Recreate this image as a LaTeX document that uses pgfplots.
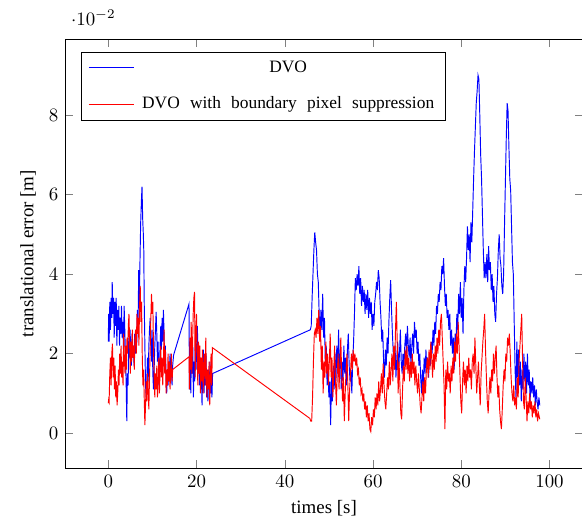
\documentclass[border=0pt]{standalone}
\usepackage{fontspec}
\setmainfont{Liberation Serif}
\usepackage{pgfplots}
\pgfplotsset{compat=1.18}
\newcommand{\lsp}{\hspace{5.4pt}}

\begin{document}
\begin{tikzpicture}
\begin{axis}[
  scale only axis,
  width=274pt, height=227pt,
  xmin=-9.8, xmax=107.6,
  ymin=-0.0088, ymax=0.0991,
  xtick={0,20,40,60,80,100},
  ytick={0,0.02,0.04,0.06,0.08},
  xlabel={times [s]},
  ylabel={translational error [m]},
  legend pos=north west,
  legend cell align=center,
  legend style={font=\fontsize{9.2}{11}\selectfont, row sep=7.5pt,
    inner xsep=4pt, inner ysep=2.5pt, /tikz/column 1/.style={column sep=2pt}},
  legend image code/.code={\draw[#1] (0cm,0cm) -- (0.84cm,0cm);},
  every axis plot/.append style={line width=0.5pt},
]
% DVO
\addplot[blue, no markers] coordinates {
(0.00,0.023)(0.10,0.030)(0.20,0.023)(0.35,0.033)(0.50,0.026)(0.65,0.034)(0.80,0.029)(0.90,0.038)(1.05,0.030)(1.20,0.034)(1.35,0.024)(1.50,0.033)(1.65,0.027)(1.80,0.034)(1.95,0.022)(2.10,0.031)(2.25,0.026)(2.40,0.032)(2.55,0.022)(2.70,0.029)(2.85,0.025)(3.00,0.032)(3.15,0.024)(3.30,0.028)(3.45,0.021)(3.60,0.032)(3.75,0.026)(3.90,0.019)(4.05,0.013)(4.20,0.003)(4.35,0.015)(4.50,0.012)(4.65,0.024)(4.80,0.019)(4.95,0.026)(5.10,0.020)(5.25,0.017)(5.40,0.025)(5.55,0.019)(5.70,0.022)(5.85,0.017)(6.00,0.025)(6.15,0.020)(6.30,0.026)(6.45,0.022)(6.60,0.031)(6.75,0.026)(6.90,0.041)(7.05,0.033)(7.20,0.044)(7.35,0.053)(7.50,0.058)(7.65,0.062)(7.80,0.054)(7.95,0.050)(8.05,0.046)(8.15,0.033)(8.30,0.022)(8.45,0.012)(8.60,0.009)(8.75,0.014)(8.90,0.019)(9.05,0.013)(9.20,0.022)(9.35,0.026)(9.50,0.029)(9.65,0.023)(9.80,0.018)(9.95,0.026)(10.10,0.015)(10.25,0.011)(10.40,0.016)(10.55,0.022)(10.70,0.026)(10.85,0.0305)(11.00,0.025)(11.15,0.018)(11.30,0.023)(11.45,0.012)(11.60,0.016)(11.75,0.022)(11.90,0.027)(12.05,0.021)(12.20,0.029)(12.35,0.023)(12.50,0.031)(12.65,0.025)(12.80,0.017)(12.95,0.022)(13.10,0.014)(13.25,0.010)(13.40,0.015)(13.55,0.012)(13.70,0.018)(13.85,0.013)(14.00,0.020)(14.15,0.015)(14.30,0.019)(14.45,0.012)(14.60,0.017)(14.80,0.0196)
(18.30,0.0325)(18.40,0.011)(18.55,0.023)(18.70,0.010)(18.85,0.020)(19.00,0.015)(19.15,0.022)(19.30,0.009)(19.45,0.018)(19.60,0.013)(19.75,0.024)(19.90,0.016)(20.05,0.022)(20.20,0.027)(20.35,0.018)(20.50,0.022)(20.65,0.012)(20.80,0.019)(20.95,0.011)(21.10,0.016)(21.25,0.007)(21.40,0.015)(21.55,0.021)(21.70,0.010)(21.85,0.017)(22.00,0.012)(22.15,0.020)(22.30,0.009)(22.45,0.016)(22.60,0.008)(22.75,0.015)(22.90,0.011)(23.05,0.018)(23.20,0.010)(23.35,0.013)(23.50,0.009)(23.65,0.015)
(45.80,0.026)(46.00,0.027)(46.20,0.034)(46.40,0.040)(46.60,0.046)(46.80,0.0505)(47.00,0.048)(47.20,0.046)(47.40,0.040)(47.60,0.038)(47.80,0.030)(48.00,0.024)(48.20,0.031)(48.40,0.026)(48.60,0.035)(48.80,0.024)(49.00,0.029)(49.20,0.017)(49.40,0.022)(49.60,0.012)(49.80,0.016)(50.00,0.009)(50.20,0.013)(50.40,0.002)(50.60,0.014)(50.80,0.008)(51.00,0.017)(51.20,0.011)(51.40,0.020)(51.60,0.013)(51.80,0.022)(52.00,0.015)(52.20,0.026)(52.40,0.016)(52.60,0.020)(52.80,0.011)(53.00,0.018)(53.20,0.013)(53.40,0.022)(53.60,0.015)(53.80,0.019)(54.00,0.012)(54.20,0.021)(54.40,0.025)(54.60,0.017)(54.80,0.013)(55.00,0.016)(55.20,0.010)(55.40,0.018)(55.60,0.023)(55.80,0.030)(56.00,0.039)(56.20,0.036)(56.40,0.040)(56.60,0.037)(56.80,0.042)(57.00,0.035)(57.20,0.039)(57.40,0.032)(57.60,0.037)(57.80,0.033)(58.00,0.036)(58.20,0.030)(58.40,0.035)(58.60,0.031)(58.80,0.036)(59.00,0.029)(59.20,0.034)(59.40,0.030)(59.60,0.033)(59.80,0.026)(60.00,0.030)(60.20,0.027)(60.40,0.033)(60.60,0.035)(60.80,0.038)(61.00,0.036)(61.20,0.041)(61.40,0.039)(61.60,0.033)(61.80,0.029)(62.00,0.023)(62.20,0.026)(62.40,0.018)(62.60,0.014)(62.80,0.021)(63.00,0.017)(63.20,0.024)(63.40,0.020)(63.60,0.028)(63.80,0.034)(64.00,0.0385)(64.20,0.031)(64.40,0.025)(64.60,0.020)(64.80,0.016)(65.00,0.022)(65.20,0.014)(65.40,0.019)(65.60,0.023)(65.80,0.016)(66.00,0.020)(66.20,0.026)(66.40,0.018)(66.60,0.015)(66.80,0.020)(67.00,0.016)(67.20,0.022)(67.40,0.025)(67.60,0.020)(67.80,0.027)(68.00,0.022)(68.20,0.019)(68.40,0.024)(68.60,0.017)(68.80,0.022)(69.00,0.025)(69.20,0.020)(69.40,0.028)(69.60,0.024)(69.80,0.026)(70.00,0.020)(70.20,0.023)(70.40,0.017)(70.60,0.020)(70.80,0.014)(71.00,0.010)(71.20,0.016)(71.40,0.012)(71.60,0.019)(71.80,0.015)(72.00,0.021)(72.20,0.016)(72.40,0.019)(72.60,0.014)(72.80,0.020)(73.00,0.017)(73.20,0.023)(73.40,0.020)(73.60,0.026)(73.80,0.022)(74.00,0.028)(74.20,0.025)(74.40,0.032)(74.60,0.030)(74.80,0.035)(75.00,0.033)(75.20,0.038)(75.40,0.036)(75.60,0.042)(75.80,0.040)(76.00,0.044)(76.20,0.037)(76.40,0.032)(76.60,0.035)(76.80,0.029)(77.00,0.031)(77.20,0.026)(77.40,0.030)(77.60,0.022)(77.80,0.026)(78.00,0.020)(78.20,0.024)(78.40,0.016)(78.60,0.025)(78.80,0.022)(79.00,0.030)(79.20,0.026)(79.40,0.035)(79.60,0.030)(79.80,0.038)(80.00,0.029)(80.20,0.034)(80.40,0.025)(80.60,0.036)(80.80,0.042)(81.00,0.038)(81.20,0.044)(81.40,0.052)(81.60,0.046)(81.80,0.050)(82.00,0.043)(82.20,0.053)(82.40,0.048)(82.60,0.056)(82.80,0.064)(83.00,0.071)(83.20,0.077)(83.40,0.083)(83.60,0.086)(83.80,0.090)(84.00,0.089)(84.20,0.080)(84.40,0.070)(84.60,0.064)(84.80,0.055)(85.00,0.046)(85.20,0.039)(85.40,0.043)(85.60,0.039)(85.80,0.045)(86.00,0.038)(86.20,0.047)(86.40,0.041)(86.60,0.043)(86.80,0.036)(87.00,0.040)(87.20,0.033)(87.40,0.037)(87.60,0.030)(87.80,0.028)(88.00,0.035)(88.20,0.039)(88.40,0.046)(88.60,0.050)(88.80,0.044)(89.00,0.042)(89.20,0.037)(89.40,0.035)(89.60,0.040)(89.80,0.052)(90.00,0.063)(90.20,0.074)(90.40,0.083)(90.60,0.081)(90.80,0.072)(91.00,0.064)(91.20,0.061)(91.40,0.052)(91.60,0.043)(91.80,0.040)(92.00,0.028)(92.20,0.016)(92.40,0.009)(92.60,0.023)(92.80,0.014)(93.00,0.021)(93.20,0.012)(93.40,0.018)(93.60,0.008)(93.80,0.016)(94.00,0.011)(94.20,0.020)(94.40,0.013)(94.60,0.018)(94.80,0.010)(95.00,0.020)(95.20,0.012)(95.40,0.016)(95.60,0.008)(95.80,0.013)(96.00,0.010)(96.20,0.014)(96.40,0.009)(96.60,0.012)(96.80,0.007)(97.00,0.011)(97.20,0.008)(97.40,0.006)(97.60,0.009)(97.80,0.007)
};
\addlegendentry{DVO}
% DVO with boundary pixel suppression
\addplot[red, no markers] coordinates {
(0.00,0.0075)(0.10,0.0085)(0.20,0.008)(0.35,0.015)(0.50,0.019)(0.65,0.012)(0.80,0.020)(0.95,0.0225)(1.10,0.014)(1.25,0.019)(1.40,0.011)(1.55,0.017)(1.70,0.009)(1.85,0.013)(2.00,0.007)(2.15,0.010)(2.30,0.016)(2.45,0.012)(2.60,0.020)(2.75,0.015)(2.90,0.022)(3.05,0.014)(3.20,0.018)(3.35,0.012)(3.50,0.025)(3.65,0.019)(3.80,0.015)(3.95,0.022)(4.10,0.016)(4.25,0.024)(4.40,0.020)(4.55,0.027)(4.70,0.030)(4.85,0.022)(5.00,0.015)(5.15,0.023)(5.30,0.018)(5.45,0.026)(5.60,0.019)(5.75,0.022)(5.90,0.016)(6.05,0.024)(6.20,0.026)(6.35,0.020)(6.50,0.030)(6.65,0.025)(6.80,0.029)(6.95,0.022)(7.10,0.032)(7.25,0.037)(7.40,0.028)(7.55,0.033)(7.70,0.020)(7.85,0.012)(8.00,0.016)(8.15,0.009)(8.30,0.002)(8.45,0.007)(8.60,0.013)(8.75,0.008)(8.90,0.015)(9.05,0.010)(9.20,0.006)(9.35,0.014)(9.50,0.021)(9.65,0.029)(9.80,0.035)(9.95,0.030)(10.10,0.033)(10.25,0.022)(10.40,0.014)(10.55,0.009)(10.70,0.015)(10.85,0.011)(11.00,0.017)(11.15,0.009)(11.30,0.013)(11.45,0.019)(11.60,0.010)(11.75,0.016)(11.90,0.022)(12.05,0.014)(12.20,0.019)(12.35,0.012)(12.50,0.018)(12.65,0.026)(12.80,0.015)(12.95,0.021)(13.10,0.010)(13.25,0.016)(13.40,0.012)(13.55,0.020)(13.70,0.013)(13.85,0.018)(14.00,0.011)(14.15,0.015)(14.30,0.020)(14.45,0.013)(14.60,0.016)
(18.30,0.0192)(18.40,0.011)(18.50,0.024)(18.65,0.016)(18.80,0.028)(18.95,0.015)(19.10,0.022)(19.25,0.030)(19.40,0.034)(19.55,0.0355)(19.70,0.014)(19.85,0.026)(20.00,0.030)(20.15,0.020)(20.30,0.012)(20.45,0.023)(20.60,0.015)(20.75,0.022)(20.90,0.010)(21.05,0.019)(21.20,0.013)(21.35,0.021)(21.50,0.010)(21.65,0.017)(21.80,0.020)(21.95,0.012)(22.10,0.024)(22.25,0.014)(22.40,0.009)(22.55,0.016)(22.70,0.011)(22.85,0.018)(23.00,0.007)(23.15,0.014)(23.30,0.020)(23.45,0.012)(23.60,0.0215)
(45.70,0.0037)(45.90,0.003)(46.10,0.003)(46.30,0.009)(46.50,0.018)(46.70,0.025)(46.90,0.026)(47.10,0.024)(47.30,0.029)(47.50,0.025)(47.70,0.031)(47.90,0.023)(48.10,0.027)(48.30,0.016)(48.50,0.022)(48.70,0.010)(48.90,0.018)(49.10,0.014)(49.30,0.023)(49.50,0.015)(49.70,0.020)(49.90,0.012)(50.10,0.018)(50.30,0.025)(50.50,0.014)(50.70,0.019)(50.90,0.009)(51.10,0.016)(51.30,0.022)(51.50,0.013)(51.70,0.007)(51.90,0.015)(52.10,0.020)(52.30,0.011)(52.50,0.017)(52.70,0.024)(52.90,0.015)(53.10,0.008)(53.30,0.014)(53.50,0.003)(53.70,0.010)(53.90,0.016)(54.10,0.020)(54.30,0.012)(54.50,0.003)(54.70,0.011)(54.90,0.015)(55.10,0.020)(55.30,0.016)(55.50,0.021)(55.70,0.018)(55.90,0.020)(56.10,0.017)(56.30,0.019)(56.50,0.015)(56.70,0.016)(56.90,0.012)(57.10,0.014)(57.30,0.010)(57.50,0.011)(57.70,0.008)(57.90,0.010)(58.10,0.006)(58.30,0.008)(58.50,0.004)(58.70,0.007)(58.90,0.003)(59.10,0.005)(59.30,0.001)(59.50,0.0004)(59.70,0.004)(59.90,0.002)(60.10,0.006)(60.30,0.004)(60.50,0.009)(60.70,0.006)(60.90,0.010)(61.10,0.007)(61.30,0.013)(61.50,0.008)(61.70,0.011)(61.90,0.015)(62.10,0.010)(62.30,0.0175)(62.50,0.012)(62.70,0.008)(62.90,0.006)(63.10,0.010)(63.30,0.014)(63.50,0.011)(63.70,0.018)(63.90,0.012)(64.10,0.016)(64.30,0.020)(64.50,0.013)(64.70,0.022)(64.90,0.016)(65.10,0.026)(65.30,0.033)(65.50,0.022)(65.70,0.010)(65.90,0.018)(66.10,0.012)(66.30,0.005)(66.50,0.0035)(66.70,0.011)(66.90,0.017)(67.10,0.013)(67.30,0.021)(67.50,0.016)(67.70,0.022)(67.90,0.015)(68.10,0.019)(68.30,0.013)(68.50,0.018)(68.70,0.014)(68.90,0.020)(69.10,0.015)(69.30,0.018)(69.50,0.012)(69.70,0.017)(69.90,0.013)(70.10,0.010)(70.30,0.015)(70.50,0.011)(70.70,0.007)(70.90,0.005)(71.10,0.009)(71.30,0.013)(71.50,0.008)(71.70,0.014)(71.90,0.010)(72.10,0.016)(72.30,0.019)(72.50,0.014)(72.70,0.021)(72.90,0.016)(73.10,0.023)(73.30,0.019)(73.50,0.014)(73.70,0.020)(73.90,0.016)(74.10,0.022)(74.30,0.018)(74.50,0.024)(74.70,0.020)(74.90,0.026)(75.10,0.022)(75.30,0.028)(75.50,0.030)(75.70,0.024)(75.90,0.018)(76.10,0.012)(76.30,0.001)(76.50,0.016)(76.70,0.011)(76.90,0.018)(77.10,0.013)(77.30,0.015)(77.50,0.010)(77.70,0.017)(77.90,0.013)(78.10,0.019)(78.30,0.015)(78.50,0.023)(78.70,0.018)(78.90,0.025)(79.10,0.020)(79.30,0.028)(79.50,0.022)(79.70,0.015)(79.90,0.008)(80.10,0.005)(80.30,0.013)(80.50,0.018)(80.70,0.012)(80.90,0.016)(81.10,0.010)(81.30,0.017)(81.50,0.013)(81.70,0.019)(81.90,0.014)(82.10,0.016)(82.30,0.011)(82.50,0.018)(82.70,0.020)(82.90,0.015)(83.10,0.024)(83.30,0.017)(83.50,0.010)(83.70,0.014)(83.90,0.018)(84.10,0.012)(84.30,0.007)(84.50,0.015)(84.70,0.019)(84.90,0.023)(85.10,0.026)(85.30,0.030)(85.50,0.021)(85.70,0.014)(85.90,0.008)(86.10,0.005)(86.30,0.010)(86.50,0.014)(86.70,0.010)(86.90,0.016)(87.10,0.013)(87.30,0.020)(87.50,0.015)(87.70,0.019)(87.90,0.022)(88.10,0.014)(88.30,0.009)(88.50,0.012)(88.70,0.006)(88.90,0.003)(89.10,0.001)(89.30,0.006)(89.50,0.012)(89.70,0.016)(89.90,0.013)(90.10,0.020)(90.30,0.018)(90.50,0.024)(90.70,0.022)(90.90,0.025)(91.10,0.020)(91.30,0.014)(91.50,0.010)(91.70,0.008)(91.90,0.012)(92.10,0.007)(92.30,0.009)(92.50,0.006)(92.70,0.014)(92.90,0.009)(93.10,0.018)(93.30,0.022)(93.50,0.026)(93.70,0.030)(93.90,0.018)(94.10,0.008)(94.30,0.006)(94.50,0.014)(94.70,0.009)(94.90,0.003)(95.10,0.008)(95.30,0.005)(95.50,0.010)(95.70,0.006)(95.90,0.008)(96.10,0.004)(96.30,0.007)(96.50,0.005)(96.70,0.008)(96.90,0.004)(97.10,0.006)(97.30,0.003)(97.50,0.005)(97.70,0.004)(97.80,0.0035)
};
\addlegendentry{DVO\lsp with\lsp boundary\lsp pixel\lsp suppression\hspace{2.5pt}}
% the reference image is cut just inside the right axis line
\coordinate (bbsw) at (rel axis cs:-0.1255,-0.1329);
\coordinate (bbne) at (rel axis cs:0.998,1.0909);
\end{axis}
\pgfresetboundingbox
\path[use as bounding box] (bbsw) rectangle (bbne);
\end{tikzpicture}
\end{document}
